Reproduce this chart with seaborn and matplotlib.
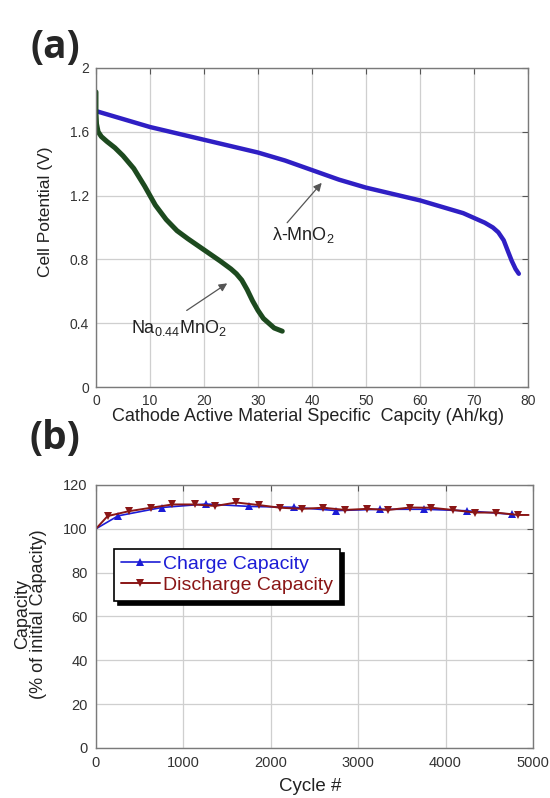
import matplotlib
matplotlib.use("Agg")
import matplotlib.pyplot as plt
import seaborn as sns
import pandas as pd
from matplotlib.lines import Line2D

# ---------------- data: panel (a) ----------------
lam_capacity = [0, 2, 5, 10, 15, 20, 25, 30, 35, 40, 45, 50, 55, 60, 65, 68, 70, 72, 73.5, 74.5, 75.5, 76.3, 77, 77.7, 78.3]
lam_potential = [1.73, 1.71, 1.68, 1.63, 1.59, 1.55, 1.51, 1.47, 1.42, 1.36, 1.30, 1.25, 1.21, 1.17, 1.12, 1.09, 1.06, 1.03, 1.00, 0.97, 0.92, 0.85, 0.79, 0.74, 0.71]

na_capacity = [0, 0, 0.1, 0.4, 1, 2, 3.5, 5, 7, 9, 11, 13, 15, 17, 20, 23, 25, 26, 27, 28, 29, 30, 31, 32, 33, 34.5]
na_potential = [1.85, 1.72, 1.65, 1.60, 1.57, 1.54, 1.50, 1.45, 1.37, 1.26, 1.14, 1.05, 0.98, 0.93, 0.86, 0.79, 0.74, 0.71, 0.67, 0.61, 0.54, 0.48, 0.43, 0.40, 0.37, 0.35]

a_xticks = [0, 10, 20, 30, 40, 50, 60, 70, 80]
a_yticks = [0, 0.4, 0.8, 1.2, 1.6, 2]
a_yticklabels = ["0", "0.4", "0.8", "1.2", "1.6", "2"]

# ---------------- data: panel (b) ----------------
discharge_cycles = [0, 133, 374, 630, 875, 1128, 1365, 1606, 1867, 2108, 2357, 2602, 2851, 3104, 3345, 3594, 3835, 4084, 4337, 4578, 4831, 4950]
discharge_values = [100, 105.8, 108.0, 109.6, 111.1, 111.1, 110.4, 112.0, 110.8, 109.6, 109.1, 109.6, 108.6, 109.1, 108.6, 109.7, 109.6, 108.6, 107.4, 107.4, 106.3, 106.3]

charge_cycles = [0, 253, 751, 1257, 1755, 2261, 2751, 3253, 3755, 4249, 4759]
charge_values = [100, 105.9, 109.7, 111.3, 110.2, 109.8, 108.3, 108.9, 108.9, 108.2, 106.6]

b_xticks = [0, 1000, 2000, 3000, 4000, 5000]
b_yticks = [0, 20, 40, 60, 80, 100, 120]

# ---------------- style ----------------
sns.set_style("white")
plt.rcParams["font.family"] = ["Liberation Sans", "DejaVu Sans"]
plt.rcParams["mathtext.fontset"] = "custom"
plt.rcParams["mathtext.rm"] = "Liberation Sans"
plt.rcParams["mathtext.it"] = "Liberation Sans:italic"
plt.rcParams["mathtext.bf"] = "Liberation Sans:bold"

BLUE_A = "#2f1fc4"
GREEN_A = "#1d4a1f"
BLUE_B = "#1c1cd6"
RED_B = "#8a1616"
FRAME = "#7a7a7a"
GRID = "#cfcfcf"
TICKTXT = "#333333"

fig = plt.figure(figsize=(5.5, 7.98), dpi=100)
ax1 = fig.add_axes([0.1745, 0.515, 0.7855, 0.3998])
ax2 = fig.add_axes([0.1745, 0.0627, 0.7945, 0.3296])


def style_axes(ax):
    for sp in ax.spines.values():
        sp.set_color(FRAME)
        sp.set_linewidth(1.0)
    ax.grid(True, color=GRID, linewidth=0.9, linestyle="-")
    ax.set_axisbelow(True)
    ax.tick_params(direction="in", length=4, width=0.8, color="#555555",
                   top=True, right=True, labelcolor=TICKTXT, labelsize=10, pad=5)


# ---------------- panel (a) ----------------
df_lam = pd.DataFrame({"cap": lam_capacity, "v": lam_potential})
df_na = pd.DataFrame({"cap": na_capacity, "v": na_potential})
sns.lineplot(data=df_lam, x="cap", y="v", ax=ax1, sort=False, estimator=None,
             color=BLUE_A, linewidth=3.2, solid_capstyle="round", solid_joinstyle="round")
sns.lineplot(data=df_na, x="cap", y="v", ax=ax1, sort=False, estimator=None,
             color=GREEN_A, linewidth=3.6, solid_capstyle="round", solid_joinstyle="round")

ax1.set_xlim(0, 80)
ax1.set_ylim(0, 2)
ax1.set_xticks(a_xticks)
ax1.set_yticks(a_yticks)
ax1.set_yticklabels(a_yticklabels)
style_axes(ax1)
ax1.set_xlabel("Cathode Active Material Specific  Capcity (Ah/kg)", fontsize=13, color="#222222")
ax1.set_ylabel("Cell Potential (V)", fontsize=12.5, color="#222222")
ax1.xaxis.set_label_coords(0.49, -0.065)
ax1.yaxis.set_label_coords(-0.10, 0.55)

arrow_kw = dict(arrowstyle="-|>", color="#555555", lw=0.9,
                mutation_scale=12, shrinkA=0, shrinkB=0)
ax1.annotate("", xy=(41.8, 1.28), xytext=(35.4, 1.03), arrowprops=arrow_kw)
ax1.text(38.3, 0.955, r"λ-MnO$_{\mathregular{2}}$", fontsize=13, ha="center", va="center", color="#222222")
ax1.annotate("", xy=(24.3, 0.65), xytext=(16.8, 0.48), arrowprops=arrow_kw)
ax1.text(15.3, 0.37, r"Na$_{\mathregular{0.44}}$MnO$_{\mathregular{2}}$", fontsize=13, ha="center", va="center", color="#222222")

fig.text(0.1, 0.941, "(a)", fontsize=28, fontweight="bold", ha="center", va="center",
         family=["Open Sans", "DejaVu Sans"])

# ---------------- panel (b) ----------------
df_c = pd.DataFrame({"cycle": charge_cycles, "cap": charge_values})
df_d = pd.DataFrame({"cycle": discharge_cycles, "cap": discharge_values})
sns.lineplot(data=df_c, x="cycle", y="cap", ax=ax2, sort=False, estimator=None,
             color=BLUE_B, linewidth=1.2, marker="^", markersize=5.5,
             markeredgewidth=0, markevery=list(range(1, len(charge_cycles))))
sns.lineplot(data=df_d, x="cycle", y="cap", ax=ax2, sort=False, estimator=None,
             color=RED_B, linewidth=1.4, marker="v", markersize=5.5,
             markeredgewidth=0, markevery=list(range(1, len(discharge_cycles) - 1)))

ax2.set_xlim(0, 5000)
ax2.set_ylim(0, 120)
ax2.set_xticks(b_xticks)
ax2.set_yticks(b_yticks)
style_axes(ax2)
ax2.tick_params(labelsize=10.5, pad=6)
ax2.set_xlabel("Cycle #", fontsize=13.5, color="#222222")
ax2.set_ylabel("Capacity\n(% of initial Capacity)", fontsize=13, color="#222222", linespacing=0.95)
ax2.xaxis.set_label_coords(0.49, -0.115)
ax2.yaxis.set_label_coords(-0.112, 0.51)

handles = [
    Line2D([], [], color=BLUE_B, lw=1.2, marker="^", markersize=5.5, markeredgewidth=0),
    Line2D([], [], color=RED_B, lw=1.4, marker="v", markersize=5.5, markeredgewidth=0),
]
leg = ax2.legend(handles, ["Charge Capacity", "Discharge Capacity"],
                 loc="upper left", bbox_to_anchor=(0.041, 0.757), borderaxespad=0,
                 fontsize=14, frameon=True, fancybox=False,
                 shadow={"color": "black", "alpha": 1.0, "ox": 3, "oy": -3},
                 handlelength=2.0, handletextpad=0.2, borderpad=0.35, labelspacing=0.15)
leg.get_frame().set_edgecolor("black")
leg.get_frame().set_linewidth(1.2)
leg.get_frame().set_alpha(1.0)
for txt, col in zip(leg.get_texts(), [BLUE_B, RED_B]):
    txt.set_color(col)

fig.text(0.1, 0.451, "(b)", fontsize=28, fontweight="bold", ha="center", va="center",
         family=["Open Sans", "DejaVu Sans"])

fig.savefig("out.png", dpi=100)
